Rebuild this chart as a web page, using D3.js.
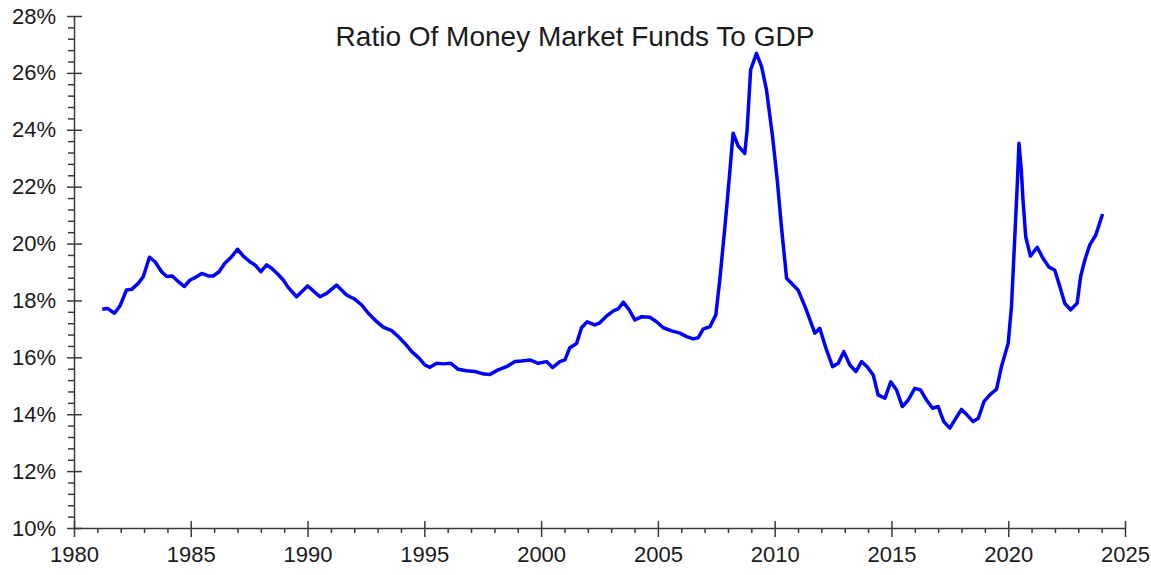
<!DOCTYPE html>
<html>
<head>
<meta charset="utf-8">
<script src="https://cdn.jsdelivr.net/npm/d3@7"></script>
<style>
  body { margin: 0; background: #fff; }
  svg { display: block; font-family: "Liberation Sans", Arial, sans-serif; }
  .axis path, .axis line { stroke: #3a3a3a; stroke-width: 1.5px; }
  .axis text { fill: #1a1a1a; font-size: 22px; }
</style>
</head>
<body>
<div id="chart"></div>
<script>
// chart values (decimal year, % of GDP)
var years = [
  1981.21, 1981.44, 1981.73, 1981.97, 1982.25, 1982.47, 1982.75, 1982.97,
  1983.23, 1983.47, 1983.75, 1983.97, 1984.21, 1984.47, 1984.72, 1984.97,
  1985.18, 1985.47, 1985.75, 1985.96, 1986.21, 1986.46, 1986.75, 1987.00,
  1987.25, 1987.53, 1987.75, 1988.00, 1988.25, 1988.46, 1988.72, 1988.96,
  1989.17, 1989.53, 1990.00, 1990.53, 1990.82, 1991.24, 1991.67, 1992.03,
  1992.32, 1992.60, 1992.89, 1993.24, 1993.60, 1993.88, 1994.17, 1994.46,
  1994.74, 1995.03, 1995.24, 1995.53, 1995.81, 1996.14, 1996.45, 1996.81,
  1997.17, 1997.56, 1997.81, 1998.16, 1998.52, 1998.88, 1999.16, 1999.52,
  1999.88, 2000.24, 2000.49, 2000.80, 2001.02, 2001.23, 2001.52, 2001.73,
  2001.97, 2002.30, 2002.49, 2002.77, 2003.09, 2003.30, 2003.52, 2003.77,
  2004.02, 2004.30, 2004.66, 2004.94, 2005.23, 2005.59, 2005.94, 2006.23,
  2006.51, 2006.73, 2006.94, 2007.23, 2007.48, 2007.65, 2007.87, 2008.05,
  2008.22, 2008.44, 2008.72, 2008.82, 2008.97, 2009.22, 2009.44, 2009.65,
  2009.91, 2010.11, 2010.29, 2010.51, 2011.00, 2011.33, 2011.72, 2011.93,
  2012.22, 2012.48, 2012.72, 2012.96, 2013.22, 2013.48, 2013.72, 2013.96,
  2014.22, 2014.43, 2014.72, 2014.97, 2015.22, 2015.47, 2015.72, 2016.00,
  2016.25, 2016.50, 2016.76, 2017.00, 2017.24, 2017.50, 2017.76, 2018.00,
  2018.24, 2018.50, 2018.72, 2018.96, 2019.21, 2019.50, 2019.71, 2020.00,
  2020.14, 2020.28, 2020.40, 2020.46, 2020.56, 2020.63, 2020.75, 2020.95,
  2021.24, 2021.49, 2021.75, 2021.99, 2022.21, 2022.42, 2022.67, 2022.95,
  2023.10, 2023.28, 2023.49, 2023.75, 2024.04
];
var ratio = [
  17.69, 17.72, 17.55, 17.81, 18.37, 18.39, 18.60, 18.84,
  19.52, 19.36, 19.01, 18.84, 18.86, 18.66, 18.49, 18.72,
  18.80, 18.95, 18.86, 18.86, 19.01, 19.31, 19.54, 19.80,
  19.56, 19.36, 19.25, 19.01, 19.25, 19.13, 18.93, 18.72,
  18.46, 18.13, 18.51, 18.13, 18.25, 18.54, 18.19, 18.04,
  17.84, 17.55, 17.31, 17.06, 16.94, 16.73, 16.49, 16.20,
  16.00, 15.73, 15.65, 15.79, 15.77, 15.79, 15.58, 15.53,
  15.50, 15.41, 15.40, 15.56, 15.67, 15.85, 15.87, 15.91,
  15.79, 15.85, 15.64, 15.85, 15.91, 16.34, 16.49, 17.04,
  17.25, 17.14, 17.20, 17.43, 17.63, 17.70, 17.94, 17.67,
  17.31, 17.43, 17.41, 17.25, 17.04, 16.93, 16.85, 16.73,
  16.65, 16.69, 16.99, 17.08, 17.49, 18.72, 20.59, 22.24,
  23.88, 23.43, 23.17, 23.99, 26.10, 26.69, 26.22, 25.40,
  23.76, 22.24, 20.59, 18.78, 18.37, 17.72, 16.85, 17.02,
  16.26, 15.67, 15.79, 16.20, 15.73, 15.50, 15.85, 15.67,
  15.38, 14.68, 14.56, 15.14, 14.85, 14.27, 14.50, 14.91,
  14.85, 14.50, 14.21, 14.27, 13.74, 13.51, 13.86, 14.17,
  13.97, 13.74, 13.86, 14.44, 14.68, 14.88, 15.67, 16.50,
  17.80, 20.20, 22.30, 23.53, 22.59, 21.57, 20.24, 19.56,
  19.87, 19.48, 19.17, 19.07, 18.49, 17.90, 17.67, 17.90,
  18.84, 19.42, 19.95, 20.30, 21.04
];
var xTicks = [1980, 1985, 1990, 1995, 2000, 2005, 2010, 2015, 2020, 2025];
var yTicks = [10, 12, 14, 16, 18, 20, 22, 24, 26, 28];
var title = "Ratio Of Money Market Funds To GDP";

var svgWidth = 1151, svgHeight = 575;
var margin = { top: 16, right: 26, bottom: 47, left: 74 };
var width = svgWidth - margin.left - margin.right;
var height = svgHeight - margin.top - margin.bottom;

var svg = d3.select("#chart").append("svg")
  .attr("width", svgWidth)
  .attr("height", svgHeight);

var g = svg.append("g")
  .attr("transform", `translate(${margin.left}, ${margin.top})`);

var x = d3.scaleLinear().domain([1980, 2025]).range([0, width]);
var y = d3.scaleLinear().domain([10, 28]).range([height, 0]);

// minor ticks first
var yMinor = d3.range(10, 28.001, 0.4).filter(v => Math.abs(v / 2 - Math.round(v / 2)) > 0.01);
g.append("g").attr("class", "axis")
  .call(d3.axisLeft(y).tickValues(yMinor).tickFormat("").tickSize(6))
  .call(a => a.select(".domain").remove());

var xMinor = d3.range(1981, 2025).filter(v => v % 5 !== 0);
g.append("g").attr("class", "axis")
  .attr("transform", `translate(0, ${height})`)
  .call(d3.axisBottom(x).tickValues(xMinor).tickFormat("").tickSize(5))
  .call(a => a.select(".domain").remove());

// major axes, ticks cross the axis line
var yAxis = g.append("g").attr("class", "axis")
  .call(d3.axisLeft(y).tickValues(yTicks).tickFormat(d => d + "%").tickSizeOuter(0).tickSizeInner(7).tickPadding(11));
yAxis.selectAll(".tick line").attr("x2", 8).attr("x1", -7);

var xAxis = g.append("g").attr("class", "axis")
  .attr("transform", `translate(0, ${height})`)
  .call(d3.axisBottom(x).tickValues(xTicks).tickFormat(d3.format("d")).tickSizeOuter(0).tickSizeInner(9).tickPadding(9));
xAxis.selectAll(".tick line").attr("y1", -7).attr("y2", 9);

// line
var data = years.map((t, i) => ({ t: t, v: ratio[i] }));
var line = d3.line().x(d => x(d.t)).y(d => y(d.v));

g.append("path")
  .datum(data)
  .attr("fill", "none")
  .attr("stroke", "#0000ff")
  .attr("stroke-width", 3.5)
  .attr("stroke-linejoin", "round")
  .attr("d", line);

svg.append("text")
  .attr("x", 575)
  .attr("y", 46)
  .attr("text-anchor", "middle")
  .attr("font-size", "28px")
  .attr("fill", "#1a1a1a")
  .text(title);
</script>
</body>
</html>
